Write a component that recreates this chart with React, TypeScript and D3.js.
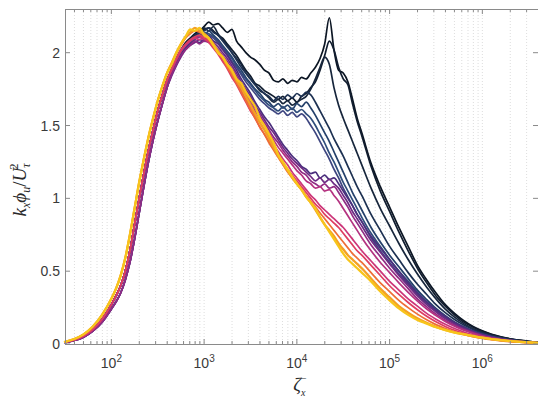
import React from 'react';
import * as d3 from 'd3';

// ---------- data ----------
// x grid, as log10 of zeta_x
const RISE_LOGS = [1.5, 1.6, 1.7, 1.8, 1.9, 2.0, 2.05, 2.1, 2.15, 2.2, 2.25, 2.3, 2.35, 2.4, 2.45, 2.5, 2.55, 2.6];
const TAIL_LOGS = [
  2.65, 2.7, 2.75, 2.8, 2.85, 2.9, 2.95, 3.0, 3.05, 3.1,
  3.15, 3.2, 3.25, 3.3, 3.35, 3.4, 3.45, 3.5, 3.55, 3.6,
  3.65, 3.7, 3.75, 3.8, 3.85, 3.9, 3.95, 4.0, 4.05, 4.1,
  4.15, 4.2, 4.25, 4.3, 4.35, 4.4, 4.45, 4.5, 4.55, 4.6,
  4.65, 4.7,
  4.8, 4.9, 5.0, 5.1, 5.2, 5.3, 5.4, 5.5, 5.6, 5.7,
  5.8, 5.9, 6.0, 6.1, 6.2, 6.3, 6.4, 6.5, 6.6,
];

const riseL = [0.015, 0.034, 0.066, 0.12, 0.20, 0.31, 0.38, 0.47, 0.59, 0.75, 0.93, 1.11, 1.27, 1.42, 1.55, 1.67, 1.77, 1.86];
const riseM = [0.012, 0.028, 0.055, 0.10, 0.17, 0.27, 0.33, 0.40, 0.50, 0.64, 0.82, 1.00, 1.17, 1.33, 1.47, 1.60, 1.71, 1.81];
const riseR = [0.010, 0.024, 0.047, 0.088, 0.15, 0.24, 0.29, 0.35, 0.44, 0.56, 0.72, 0.90, 1.08, 1.25, 1.40, 1.53, 1.65, 1.76];

const tailD1 = [1.89, 1.96, 2.02, 2.07, 2.10, 2.13, 2.15, 2.18, 2.21, 2.19,
  2.20, 2.17, 2.14, 2.16, 2.08, 2.04, 2.00, 1.97, 1.95, 1.92,
  1.88, 1.86, 1.81, 1.80, 1.82, 1.79, 1.81, 1.80, 1.83, 1.82,
  1.86, 1.90, 1.96, 2.06, 2.24, 2.02, 1.88, 1.86, 1.80, 1.68,
  1.55, 1.45,
  1.24, 1.08, 0.94, 0.80, 0.67, 0.54, 0.44, 0.35, 0.27, 0.21,
  0.16, 0.12, 0.09, 0.067, 0.05, 0.036, 0.026, 0.018, 0.012];
const tailD2 = [1.88, 1.95, 2.01, 2.06, 2.09, 2.12, 2.14, 2.16, 2.17, 2.15,
  2.12, 2.10, 2.06, 2.02, 1.98, 1.93, 1.88, 1.84, 1.79, 1.77,
  1.74, 1.72, 1.70, 1.68, 1.70, 1.67, 1.69, 1.66, 1.70, 1.72,
  1.76, 1.80, 1.88, 1.98, 2.08, 2.02, 1.90, 1.82, 1.78, 1.65,
  1.53, 1.43,
  1.22, 1.05, 0.91, 0.77, 0.64, 0.52, 0.42, 0.33, 0.26, 0.20,
  0.15, 0.115, 0.087, 0.065, 0.048, 0.035, 0.025, 0.017, 0.012];
const tailD3 = [1.87, 1.94, 2.00, 2.05, 2.08, 2.11, 2.14, 2.17, 2.15, 2.18,
  2.13, 2.09, 2.05, 2.00, 1.96, 1.92, 1.86, 1.82, 1.78, 1.74,
  1.72, 1.69, 1.66, 1.68, 1.65, 1.67, 1.64, 1.66, 1.68, 1.70,
  1.75, 1.82, 1.90, 1.97, 1.92, 1.76, 1.64, 1.55, 1.47, 1.39,
  1.31, 1.23,
  1.07, 0.93, 0.81, 0.69, 0.58, 0.48, 0.39, 0.31, 0.24, 0.185,
  0.14, 0.105, 0.08, 0.06, 0.045, 0.033, 0.024, 0.016, 0.011];
const tailB1 = [1.88, 1.95, 2.01, 2.06, 2.09, 2.12, 2.14, 2.15, 2.17, 2.14,
  2.12, 2.08, 2.04, 2.00, 1.95, 1.90, 1.86, 1.82, 1.78, 1.75,
  1.72, 1.70, 1.67, 1.70, 1.68, 1.71, 1.69, 1.72, 1.70, 1.73,
  1.71, 1.66, 1.60, 1.54, 1.48, 1.41, 1.35, 1.29, 1.22, 1.15,
  1.08, 1.02,
  0.89, 0.78, 0.67, 0.58, 0.49, 0.41, 0.34, 0.27, 0.215, 0.168,
  0.13, 0.1, 0.075, 0.056, 0.042, 0.03, 0.022, 0.015, 0.01];
const tailB2 = [1.88, 1.95, 2.00, 2.05, 2.08, 2.10, 2.13, 2.12, 2.15, 2.12,
  2.09, 2.05, 2.01, 1.97, 1.92, 1.88, 1.83, 1.79, 1.75, 1.72,
  1.68, 1.66, 1.63, 1.65, 1.62, 1.64, 1.61, 1.65, 1.63, 1.66,
  1.62, 1.57, 1.51, 1.45, 1.39, 1.32, 1.25, 1.18, 1.11, 1.04,
  0.98, 0.92,
  0.80, 0.70, 0.61, 0.53, 0.45, 0.37, 0.305, 0.245, 0.195, 0.152,
  0.118, 0.09, 0.068, 0.051, 0.038, 0.028, 0.02, 0.014, 0.01];
const tailB3 = [1.87, 1.94, 2.00, 2.04, 2.07, 2.10, 2.12, 2.14, 2.13, 2.11,
  2.08, 2.04, 2.00, 1.96, 1.91, 1.86, 1.82, 1.78, 1.74, 1.70,
  1.67, 1.64, 1.62, 1.60, 1.63, 1.60, 1.62, 1.59, 1.61, 1.58,
  1.55, 1.50, 1.44, 1.38, 1.31, 1.25, 1.18, 1.11, 1.05, 0.99,
  0.93, 0.87,
  0.76, 0.67, 0.58, 0.50, 0.43, 0.355, 0.29, 0.235, 0.185, 0.145,
  0.112, 0.086, 0.065, 0.049, 0.036, 0.026, 0.019, 0.013, 0.009];
const tailB4 = [1.86, 1.93, 1.99, 2.03, 2.06, 2.09, 2.11, 2.13, 2.12, 2.10,
  2.07, 2.03, 1.99, 1.94, 1.90, 1.85, 1.80, 1.76, 1.72, 1.68,
  1.65, 1.62, 1.60, 1.58, 1.60, 1.57, 1.59, 1.56, 1.58, 1.55,
  1.50, 1.45, 1.39, 1.33, 1.27, 1.20, 1.14, 1.07, 1.01, 0.95,
  0.89, 0.84,
  0.73, 0.64, 0.56, 0.48, 0.41, 0.34, 0.28, 0.225, 0.178, 0.14,
  0.108, 0.083, 0.063, 0.047, 0.035, 0.025, 0.018, 0.013, 0.009];
const tailP1 = [1.85, 1.92, 1.98, 2.03, 2.06, 2.08, 2.07, 2.09, 2.11, 2.08,
  2.06, 2.02, 1.98, 1.93, 1.88, 1.82, 1.77, 1.72, 1.66, 1.61,
  1.56, 1.52, 1.47, 1.42, 1.37, 1.33, 1.29, 1.26, 1.22, 1.20,
  1.17, 1.18, 1.14, 1.16, 1.13, 1.14, 1.10, 1.05, 1.00, 0.95,
  0.89, 0.84,
  0.74, 0.66, 0.58, 0.50, 0.42, 0.35, 0.29, 0.235, 0.19, 0.148,
  0.115, 0.088, 0.066, 0.05, 0.037, 0.027, 0.019, 0.013, 0.009];
const tailP2 = [1.84, 1.91, 1.97, 2.02, 2.05, 2.07, 2.09, 2.08, 2.10, 2.07,
  2.04, 2.00, 1.96, 1.91, 1.86, 1.80, 1.75, 1.70, 1.64, 1.59,
  1.54, 1.49, 1.45, 1.40, 1.35, 1.31, 1.27, 1.24, 1.21, 1.18,
  1.15, 1.12, 1.14, 1.11, 1.13, 1.10, 1.07, 1.02, 0.97, 0.91,
  0.86, 0.81,
  0.71, 0.63, 0.55, 0.47, 0.40, 0.33, 0.27, 0.22, 0.175, 0.138,
  0.107, 0.082, 0.062, 0.046, 0.034, 0.025, 0.018, 0.012, 0.008];
const tailP3 = [1.85, 1.92, 1.98, 2.02, 2.05, 2.08, 2.06, 2.08, 2.07, 2.05,
  2.02, 1.98, 1.94, 1.89, 1.84, 1.78, 1.73, 1.67, 1.62, 1.57,
  1.52, 1.47, 1.42, 1.38, 1.33, 1.29, 1.25, 1.22, 1.18, 1.16,
  1.12, 1.10, 1.08, 1.10, 1.07, 1.08, 1.04, 0.99, 0.94, 0.88,
  0.83, 0.78,
  0.68, 0.60, 0.52, 0.45, 0.38, 0.31, 0.255, 0.205, 0.163, 0.128,
  0.099, 0.076, 0.057, 0.043, 0.032, 0.023, 0.017, 0.012, 0.008];
const tailM1 = [1.88, 1.95, 2.01, 2.05, 2.08, 2.10, 2.11, 2.09, 2.08, 2.05,
  2.01, 1.97, 1.92, 1.87, 1.82, 1.76, 1.71, 1.65, 1.60, 1.55,
  1.50, 1.45, 1.40, 1.35, 1.31, 1.27, 1.23, 1.19, 1.16, 1.12,
  1.10, 1.07, 1.08, 1.05, 1.06, 1.02, 0.98, 0.93, 0.88, 0.83,
  0.78, 0.73,
  0.64, 0.56, 0.49, 0.42, 0.355, 0.295, 0.24, 0.195, 0.155, 0.122,
  0.095, 0.073, 0.055, 0.041, 0.03, 0.022, 0.016, 0.011, 0.008];
const tailM2 = [1.88, 1.95, 2.01, 2.05, 2.08, 2.10, 2.09, 2.11, 2.08, 2.04,
  2.00, 1.95, 1.90, 1.85, 1.80, 1.74, 1.68, 1.63, 1.57, 1.52,
  1.47, 1.42, 1.37, 1.32, 1.27, 1.23, 1.18, 1.14, 1.10, 1.06,
  1.02, 0.99, 0.95, 0.92, 0.89, 0.86, 0.83, 0.80, 0.76, 0.72,
  0.68, 0.64,
  0.57, 0.50, 0.43, 0.37, 0.31, 0.26, 0.21, 0.17, 0.135, 0.106,
  0.082, 0.063, 0.048, 0.036, 0.027, 0.02, 0.014, 0.01, 0.007];
const tailR1 = [1.89, 1.96, 2.02, 2.06, 2.09, 2.11, 2.12, 2.10, 2.07, 2.03,
  1.99, 1.94, 1.89, 1.83, 1.78, 1.72, 1.66, 1.60, 1.55, 1.49,
  1.44, 1.39, 1.34, 1.29, 1.24, 1.20, 1.16, 1.12, 1.08, 1.04,
  1.00, 0.96, 0.93, 0.89, 0.86, 0.83, 0.80, 0.76, 0.72, 0.68,
  0.64, 0.61,
  0.54, 0.47, 0.40, 0.34, 0.285, 0.235, 0.19, 0.152, 0.12, 0.094,
  0.073, 0.056, 0.042, 0.032, 0.024, 0.018, 0.013, 0.009, 0.006];
const tailO1 = [1.92, 1.99, 2.05, 2.10, 2.13, 2.15, 2.14, 2.12, 2.09, 2.05,
  2.00, 1.96, 1.90, 1.85, 1.79, 1.73, 1.67, 1.61, 1.55, 1.49,
  1.44, 1.38, 1.33, 1.28, 1.23, 1.18, 1.14, 1.10, 1.06, 1.02,
  0.98, 0.94, 0.90, 0.86, 0.82, 0.78, 0.74, 0.70, 0.66, 0.62,
  0.59, 0.56,
  0.49, 0.42, 0.36, 0.30, 0.25, 0.205, 0.166, 0.133, 0.106, 0.083,
  0.065, 0.05, 0.038, 0.029, 0.022, 0.016, 0.012, 0.008, 0.006];
const tailO2 = [1.93, 2.00, 2.06, 2.11, 2.14, 2.17, 2.15, 2.13, 2.10, 2.06,
  2.01, 1.97, 1.92, 1.87, 1.81, 1.76, 1.70, 1.64, 1.58, 1.52,
  1.47, 1.41, 1.35, 1.29, 1.24, 1.19, 1.14, 1.10, 1.06, 1.01,
  0.97, 0.92, 0.87, 0.82, 0.78, 0.74, 0.69, 0.65, 0.61, 0.58,
  0.55, 0.52,
  0.45, 0.38, 0.32, 0.26, 0.215, 0.176, 0.145, 0.118, 0.097, 0.08,
  0.066, 0.053, 0.043, 0.034, 0.027, 0.021, 0.016, 0.012, 0.008];
const tailY1 = [1.92, 2.00, 2.06, 2.11, 2.16, 2.15, 2.17, 2.12, 2.10, 2.05,
  2.00, 1.97, 1.92, 1.88, 1.82, 1.79, 1.73, 1.68, 1.63, 1.55,
  1.50, 1.44, 1.38, 1.30, 1.25, 1.20, 1.15, 1.10, 1.06, 1.01,
  0.97, 0.93, 0.87, 0.82, 0.77, 0.72, 0.67, 0.62, 0.58, 0.55,
  0.52, 0.49,
  0.43, 0.36, 0.30, 0.245, 0.20, 0.165, 0.14, 0.115, 0.095, 0.078,
  0.067, 0.055, 0.043, 0.034, 0.027, 0.02, 0.015, 0.011, 0.008];

const SERIES_COLORS = ['#0c1624', '#111d2f', '#17263c', '#1d3152', '#24406a', '#2f4d7b', '#3e4680',
  '#4b2f7d', '#6c2b83', '#902c84', '#b43280', '#cc367a', '#de3e62', '#ee6d36', '#f4a024', '#f7c51b'];
const SERIES_RISES = [riseM, riseM, riseM, riseM, riseM, riseM, riseR,
  riseR, riseR, riseR, riseM, riseM, riseM, riseL, riseL, riseL];
const SERIES_TAILS = [tailD1, tailD2, tailD3, tailB1, tailB2, tailB3, tailB4,
  tailP1, tailP2, tailP3, tailM1, tailM2, tailR1, tailO1, tailO2, tailY1];

const Y_TICKS = [0, 0.5, 1, 1.5, 2];
const Y_TICK_LABELS = ['0', '0.5', '1', '1.5', '2'];
const X_MAJOR_EXP = [2, 3, 4, 5, 6];

// ---------- layout ----------
const W = 538;
const H = 398;
const PL = 65, PR = 538, PT = 9, PB = 344;

export default function App() {
  const x = d3.scaleLog().domain([Math.pow(10, 1.5), Math.pow(10, 6.6)]).range([PL, PR]);
  const y = d3.scaleLinear().domain([0, 2.3]).range([PB, PT]);

  const allLogs = RISE_LOGS.concat(TAIL_LOGS);
  const line = d3.line<[number, number]>()
    .x((d) => x(d[0]))
    .y((d) => y(d[1]))
    .curve(d3.curveMonotoneX);

  const series = SERIES_TAILS.map((tail, i) => {
    const vals = SERIES_RISES[i].concat(tail);
    const pts: [number, number][] = allLogs.map((l, j) => [Math.pow(10, l), vals[j]]);
    return { color: SERIES_COLORS[i], d: line(pts) || '', idx: i };
  });

  const [x0, x1] = x.domain();
  const minorVals: { v: number; major: boolean }[] = [];
  for (let e = 1; e <= 6; e++) {
    for (let k = 1; k <= 9; k++) {
      const v = k * Math.pow(10, e);
      if (v >= x0 && v <= x1) minorVals.push({ v, major: k === 1 });
    }
  }

  const axisColor = '#8a8a8a';
  const labelColor = '#3a3a3a';
  const tickFont = '"Liberation Sans", Arial, Helvetica, sans-serif';
  const mathFont = '"Liberation Serif", "Times New Roman", serif';

  return (
    <svg width={W} height={H} style={{ position: 'absolute', left: 0, top: 0, background: '#fff' }}>
      <rect x={0} y={0} width={W} height={H} fill="#fff" />
      {/* grid */}
      <g>
        {minorVals.map((m, i) => (
          <line key={'g' + i} x1={x(m.v)} x2={x(m.v)} y1={PT} y2={PB} stroke="#d4d4d4" strokeWidth={0.8} strokeDasharray="1 2" />
        ))}
      </g>
      {/* curves */}
      <g fill="none" strokeLinejoin="round" strokeLinecap="round">
        {series.map((s) => (
          <path key={s.idx} d={s.d} stroke={s.color} strokeWidth={s.idx >= 14 ? 2.3 : 1.7} />
        ))}
      </g>
      {/* axes box */}
      <line x1={PL} x2={PR} y1={PT + 0.5} y2={PT + 0.5} stroke={axisColor} strokeWidth={1} />
      <line x1={PL} x2={PR} y1={PB + 0.5} y2={PB + 0.5} stroke={axisColor} strokeWidth={1} />
      <line x1={PL + 0.5} x2={PL + 0.5} y1={PT} y2={PB + 0.5} stroke={axisColor} strokeWidth={1} />
      {/* x ticks */}
      {minorVals.map((m, i) => {
        const len = m.major ? 5 : 3;
        return (
          <g key={'t' + i}>
            <line x1={x(m.v)} x2={x(m.v)} y1={PB} y2={PB - len} stroke={axisColor} strokeWidth={1} />
            <line x1={x(m.v)} x2={x(m.v)} y1={PT} y2={PT + len} stroke={axisColor} strokeWidth={1} />
          </g>
        );
      })}
      {/* y ticks */}
      {Y_TICKS.map((t, i) => (
        <g key={'y' + i}>
          <line x1={PL} x2={PL + 5} y1={y(t)} y2={y(t)} stroke={axisColor} strokeWidth={1} />
          <line x1={PR} x2={PR - 5} y1={y(t)} y2={y(t)} stroke={axisColor} strokeWidth={1} />
          <text x={PL - 5} y={y(t) + 5} textAnchor="end" fontFamily={tickFont} fontSize={14} fill={labelColor}>
            {Y_TICK_LABELS[i]}
          </text>
        </g>
      ))}
      {/* x tick labels */}
      {X_MAJOR_EXP.map((e) => (
        <text key={'xl' + e} x={x(Math.pow(10, e))} y={368} textAnchor="middle" fontFamily={tickFont} fontSize={14} fill={labelColor}>
          10<tspan dy={-6} fontSize={10}>{e}</tspan>
        </text>
      ))}
      {/* x label */}
      <text x={301} y={391} textAnchor="end" fontFamily={mathFont} fontStyle="italic" fontSize={19} fill="#2a2a2a">ζ</text>
      <text x={301} y={396} fontFamily={mathFont} fontStyle="italic" fontSize={10} fill="#2a2a2a">x</text>
      <text x={301} y={382} fontFamily={mathFont} fontSize={10} fill="#2a2a2a">−</text>
      {/* y label */}
      <text transform="translate(26,190) rotate(-90)" textAnchor="middle" fontFamily={mathFont} fontStyle="italic" fontSize={19} fill="#2a2a2a">
        k<tspan fontSize={12} dy={4}>x</tspan><tspan dy={-4}>ϕ</tspan><tspan fontSize={12} dy={4}>u</tspan><tspan dy={-4} fontStyle="normal">/</tspan><tspan>U</tspan><tspan fontSize={12} dy={4}>τ</tspan><tspan fontSize={12} dx={-6} dy={-12} fontStyle="normal">2</tspan>
      </text>
    </svg>
  );
}
